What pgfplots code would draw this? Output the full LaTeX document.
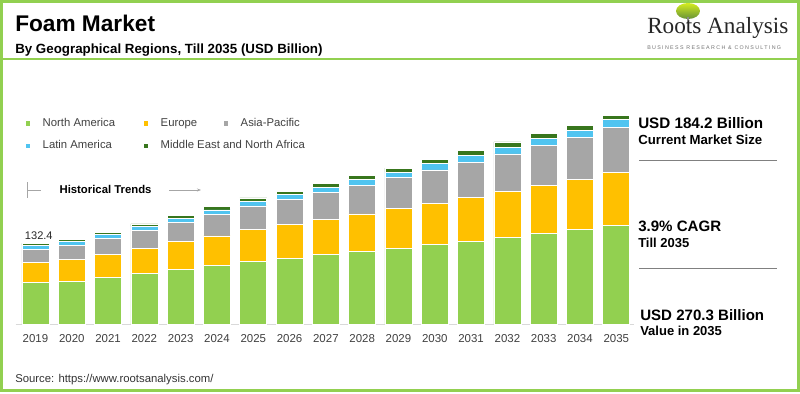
\documentclass[border=0pt]{standalone}
\usepackage{fontspec}
\setmainfont{Liberation Sans}
\newfontfamily\logofont{Liberation Serif}
\newfontfamily\tagfont[LetterSpace=25]{Liberation Sans}
\usepackage{pgfplots}
\usepackage{pgfplotstable}
\pgfplotsset{compat=1.18}
\usetikzlibrary{arrows.meta}

\definecolor{cNA}{RGB}{146,208,80}
\definecolor{cEU}{RGB}{255,192,0}
\definecolor{cAP}{RGB}{166,166,166}
\definecolor{cLA}{RGB}{80,196,240}
\definecolor{cME}{RGB}{56,118,29}
\definecolor{cBorder}{RGB}{146,208,80}

\pgfplotstableread{
year NA EU AP LA ME
2019 90.5 21.5 14.1 4.2 2.1
2020 91.7 23.1 15.3 4.3 2.4
2021 95.8 24.9 17.1 4.1 2.4
2022 100.0 26.9 19.6 4.1 2.7
2023 104.1 30.0 20.7 4.6 3.1
2024 108.8 31.5 23.6 4.5 3.3
2025 112.9 34.2 25.5 5.1 3.5
2026 116.6 35.8 26.9 5.8 3.5
2027 120.4 37.4 29.4 5.7 4.3
2028 123.6 40.5 30.6 6.2 4.1
2029 126.8 43.5 32.6 6.1 4.3
2030 130.9 44.5 36.0 7.0 4.3
2031 134.6 47.6 37.6 7.0 5.2
2032 138.5 49.9 40.1 7.3 5.6
2033 143.5 51.1 43.2 7.5 4.9
2034 147.3 54.1 45.0 7.8 5.1
2035 151.9 56.6 48.6 8.6 4.6
}\data

\pgfplotsset{my legend/.style={legend image code/.code={%
  \path[fill=none,draw=none] (0pt,-4pt) rectangle (12.75pt,4pt);
  \fill[##1,draw=none] (0pt,-2.5pt) rectangle (3.45pt,0.95pt);}}}

\begin{document}
\begin{tikzpicture}[x=0.75pt,y=-0.75pt]
\path[use as bounding box] (0,0) rectangle (800,393);
\draw[cBorder, line width=2.25pt] (1.5,1.2) rectangle (798.5,390.5);
\draw[cBorder, line width=1.5pt] (0,58.8) -- (800,58.8);

\node[anchor=base west, inner sep=0pt, font=\bfseries\fontsize{17}{20}\selectfont] at (15,31.7) {Foam Market};
\node[anchor=base west, inner sep=0pt, font=\bfseries\fontsize{10}{12}\selectfont] at (15,53.3) {By Geographical Regions, Till 2035 (USD Billion)};

% logo
\shade[top color=cNA!40!yellow, bottom color=cNA!70!black] (688,11) ellipse [x radius=9pt, y radius=6pt];
\fill[black!45] (687,17) rectangle (689,23);
\node[anchor=base west, inner sep=0pt, font=\logofont\fontsize{17.4}{20}\selectfont, text=black!85] at (647,33.3) {Roots Analysis};
\node[anchor=base west, inner sep=0pt, font=\tagfont\fontsize{4}{5}\selectfont, text=black!55] at (647,49.5) {BUSINESS RESEARCH \& CONSULTING};

\begin{axis}[
  at={(11.625pt,-243pt)}, anchor=south west,
  scale only axis, width=464.2pt, height=163.5pt,
  xmin=2018.45, xmax=2035.5, ymin=45.7, ymax=280,
  ybar stacked, bar width=20.25pt,
  axis x line=bottom, axis y line=none,
  x axis line style={-, draw=black!15, line width=0.75pt},
  xtick=data, major tick length=0pt, ytick=\empty,
  xticklabel={\pgfmathparse{int(\tick)}\pgfmathresult},
  xticklabel style={font=\fontsize{8.6}{10}\selectfont, text=black!75, yshift=-4pt},
  clip=false,
  legend columns=3,
  legend style={at={(0.0165,0.948)}, anchor=north west, draw=none, fill=none,
    inner sep=0pt, outer sep=0pt, column sep=0pt, row sep=8.75pt,
    font=\fontsize{8.5}{10}\selectfont, text=black!75,
    nodes={inner sep=0pt, outer sep=0pt}, cells={anchor=west}},
  every axis plot post/.append style={draw=white, line width=0.5pt, my legend},
]
\addplot[fill=cNA] table[x=year,y=NA]{\data};
\addlegendentry{\makebox[75.75pt][l]{\rule[-1.5pt]{0pt}{8pt}North America}}
\addplot[fill=cEU] table[x=year,y=EU]{\data};
\addlegendentry{\makebox[47.25pt][l]{\rule[-1.5pt]{0pt}{8pt}Europe}}
\addplot[fill=cAP] table[x=year,y=AP]{\data};
\addlegendentry{\makebox[45pt][l]{\rule[-1.5pt]{0pt}{8pt}Asia-Pacific}}
\addplot[fill=cLA] table[x=year,y=LA]{\data};
\addlegendentry{\makebox[75.75pt][l]{\rule[-1.5pt]{0pt}{8pt}Latin America}}
\addplot[fill=cME] table[x=year,y=ME]{\data};
\addlegendentry{\makebox[47.25pt][l]{\rule[-1.5pt]{0pt}{8pt}Middle East and North Africa}}
\node[anchor=base, inner sep=0pt, font=\fontsize{8.3}{10}\selectfont, text=black!85, xshift=2.5pt, yshift=3.2pt] at (axis cs:2019,132.4) {132.4};
\end{axis}

% historical trends
\draw[black!35, line width=0.75pt] (27.7,182) -- (27.7,198);
\draw[black!35, line width=0.75pt] (27.7,190) -- (41,190);
\node[anchor=base west, inner sep=0pt, font=\bfseries\fontsize{8.5}{10}\selectfont] at (59.3,193.3) {Historical Trends};
\draw[black!35, line width=0.75pt, -{Stealth[length=3pt]}] (169,190) -- (201,190);

% right panel
\node[anchor=base west, inner sep=0pt, font=\bfseries\fontsize{11.4}{13}\selectfont] at (638,128.3) {USD 184.2 Billion};
\node[anchor=base west, inner sep=0pt, font=\bfseries\fontsize{9.9}{12}\selectfont] at (638,144.3) {Current Market Size};
\draw[black!50, line width=1.1pt] (639.3,160.7) -- (777.3,160.7);
\node[anchor=base west, inner sep=0pt, font=\bfseries\fontsize{11.3}{13}\selectfont] at (638,231.7) {3.9\% CAGR};
\node[anchor=base west, inner sep=0pt, font=\bfseries\fontsize{9.75}{12}\selectfont] at (638,247.7) {Till 2035};
\draw[black!50, line width=1.1pt] (639.3,268.3) -- (777.3,268.3);
\node[anchor=base west, inner sep=0pt, font=\bfseries\fontsize{11.3}{13}\selectfont] at (640,320) {USD 270.3 Billion};
\node[anchor=base west, inner sep=0pt, font=\bfseries\fontsize{9.75}{12}\selectfont] at (640,335) {Value in 2035};

\node[anchor=base west, inner sep=0pt, font=\fontsize{8.5}{10}\selectfont, text=black!80] at (15,382.7) {Source: https://www.rootsanalysis.com/};
\end{tikzpicture}
\end{document}
